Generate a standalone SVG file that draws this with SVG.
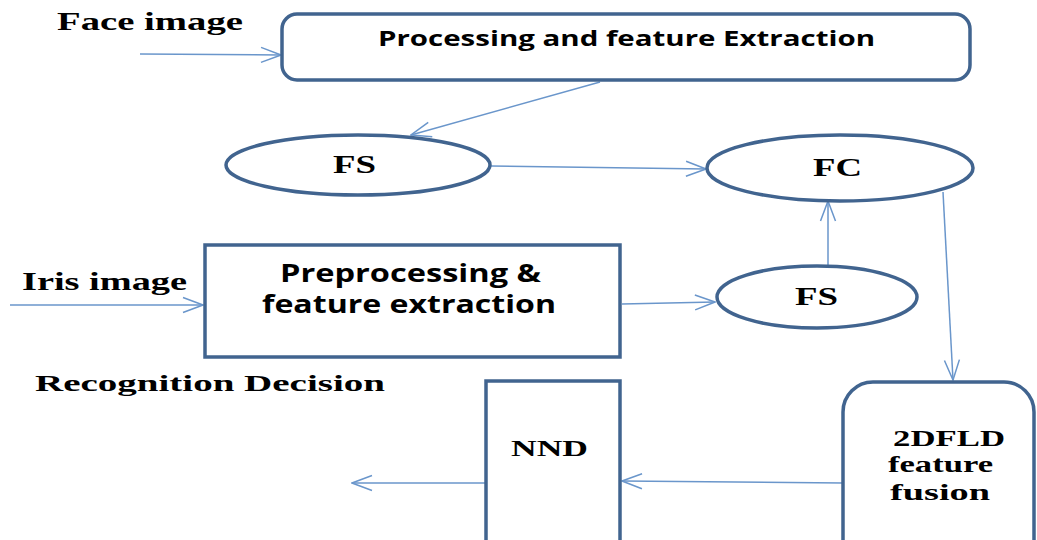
<svg xmlns="http://www.w3.org/2000/svg" width="1037" height="540" viewBox="0 0 1037 540">
  <style>
    .node { fill: #ffffff; stroke: #41648f; stroke-width: 3.5; }
    .conn { fill: none; stroke: #6a96cb; stroke-width: 1.5; }
    .sans { font-family: "Open Sans", "Liberation Sans", sans-serif; font-weight: bold; fill: #000; }
    .serif { font-family: "Liberation Serif", "DejaVu Serif", serif; font-weight: bold; fill: #000; }
  </style>
  <defs>
    <marker id="arrow" markerWidth="22" markerHeight="18" refX="21" refY="9" orient="auto" markerUnits="userSpaceOnUse">
      <path d="M1,1.5 L21,9 L1,16.5" fill="none" stroke="#6a96cb" stroke-width="1.5"/>
    </marker>
  </defs>
  <rect width="1037" height="540" fill="#ffffff"/>

  <!-- free labels -->
  <text class="serif" x="57" y="30" font-size="25" textLength="186" lengthAdjust="spacingAndGlyphs">Face image</text>
  <text class="serif" x="22" y="290" font-size="25" textLength="165" lengthAdjust="spacingAndGlyphs">Iris image</text>
  <text class="serif" x="35" y="391" font-size="23" textLength="350" lengthAdjust="spacingAndGlyphs">Recognition Decision</text>

  <g id="connectors">
    <line class="conn" x1="140" y1="54" x2="281" y2="55" marker-end="url(#arrow)"/>
    <line class="conn" x1="600" y1="82" x2="411" y2="135" marker-end="url(#arrow)"/>
    <line class="conn" x1="491" y1="166" x2="706" y2="169" marker-end="url(#arrow)"/>
    <line class="conn" x1="10" y1="305" x2="203" y2="305" marker-end="url(#arrow)"/>
    <line class="conn" x1="622" y1="304" x2="715" y2="302" marker-end="url(#arrow)"/>
    <line class="conn" x1="828" y1="266" x2="828" y2="201" marker-end="url(#arrow)"/>
    <line class="conn" x1="943" y1="192" x2="953" y2="380" marker-end="url(#arrow)"/>
    <line class="conn" x1="843" y1="483" x2="622" y2="481" marker-end="url(#arrow)"/>
    <line class="conn" x1="487" y1="483" x2="352" y2="483" marker-end="url(#arrow)"/>
  </g>

  <g id="processing">
    <rect class="node" x="282" y="14" width="688" height="66" rx="15"/>
    <text class="sans" x="378" y="46" font-size="21" textLength="497" lengthAdjust="spacingAndGlyphs">Processing and feature Extraction</text>
  </g>

  <g id="fs-face">
    <ellipse class="node" cx="358" cy="165" rx="132" ry="30"/>
    <text class="serif" x="333" y="173" font-size="25" textLength="43" lengthAdjust="spacingAndGlyphs">FS</text>
  </g>

  <g id="fc">
    <ellipse class="node" cx="840" cy="168" rx="133" ry="33"/>
    <text class="serif" x="813" y="176" font-size="25" textLength="49" lengthAdjust="spacingAndGlyphs">FC</text>
  </g>

  <g id="preprocessing">
    <rect class="node" x="205" y="245" width="415" height="112"/>
    <text class="sans" x="280" y="282" font-size="25" textLength="261" lengthAdjust="spacingAndGlyphs">Preprocessing &amp;</text>
    <text class="sans" x="262" y="313" font-size="25" textLength="294" lengthAdjust="spacingAndGlyphs">feature extraction</text>
  </g>

  <g id="fs-iris">
    <ellipse class="node" cx="817" cy="297" rx="100" ry="31"/>
    <text class="serif" x="795" y="305" font-size="25" textLength="43" lengthAdjust="spacingAndGlyphs">FS</text>
  </g>

  <g id="fusion">
    <rect class="node" x="843" y="382" width="191" height="190" rx="30"/>
    <text class="serif" x="893" y="446" font-size="23" textLength="112" lengthAdjust="spacingAndGlyphs">2DFLD</text>
    <text class="serif" x="888" y="472" font-size="23" textLength="105" lengthAdjust="spacingAndGlyphs">feature</text>
    <text class="serif" x="890" y="500" font-size="24" textLength="100" lengthAdjust="spacingAndGlyphs">fusion</text>
  </g>

  <g id="nnd">
    <rect class="node" x="486" y="381" width="134" height="190"/>
    <text class="serif" x="511" y="456" font-size="23" textLength="77" lengthAdjust="spacingAndGlyphs">NND</text>
  </g>
</svg>
